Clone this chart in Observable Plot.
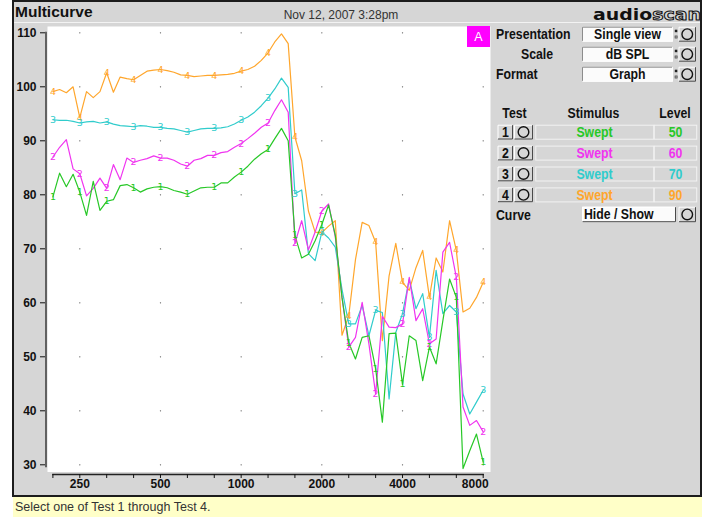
<!DOCTYPE html>
<html>
<head>
<meta charset="utf-8">
<script src="https://cdn.jsdelivr.net/npm/d3@7"></script>
<script src="https://cdn.jsdelivr.net/npm/@observablehq/plot@0.6"></script>
<style>
  html, body { margin: 0; padding: 0; background: #fff; }
  #page { position: relative; width: 708px; height: 524px; overflow: hidden; }
  #page svg { position: absolute; }
  .narrow { font-family: "Liberation Sans", Arial, sans-serif; font-weight: bold; font-size: 15px; }
</style>
</head>
<body>
<div id="page"></div>
<script>
// Frequencies of the swept measurement (Hz), 1/12-octave steps
const freqs = [198.4, 210.2, 222.7, 236.0, 250, 264.9, 280.6, 297.3, 315.0, 333.7, 353.6, 374.6,
  396.9, 420.4, 445.4, 471.9, 500, 529.7, 561.2, 594.6, 630.0, 667.4, 707.1, 749.2,
  793.7, 840.9, 890.9, 943.9, 1000, 1059, 1122, 1189, 1260, 1335, 1414, 1498,
  1587, 1682, 1782, 1888, 2000, 2119, 2245, 2378, 2520, 2670, 2828, 2997,
  3175, 3364, 3564, 3775, 4000, 4238, 4490, 4757, 5040, 5339, 5657, 5993,
  6350, 6727, 7127, 7551, 8000];

// Third-octave centres: curve markers and minor axis ticks
const markerFreqs = [198.4, 250, 315.0, 396.9, 500, 630.0, 793.7, 1000, 1260, 1587, 2000, 2520, 3175, 4000, 5040, 6350, 8000];
const labelFreqs = [250, 500, 1000, 2000, 4000];
const lastLabelFreq = [8000];
const gridFreqs = [250, 500, 1000, 2000, 4000, 8000];
const levelTicks = [30, 40, 50, 60, 70, 80, 90, 100, 110];

// Output level (dB SPL) per test
const test1 = [79.6, 84.0, 81.5, 83.8, 80.5, 76.2, 82.5, 77.1, 78.8, 79.1, 81.7, 81.9,
  81.3, 80.5, 81.1, 81.4, 81.5, 81.3, 80.8, 80.5, 80.1, 80.7, 81.3, 81.4,
  81.4, 82.2, 82.2, 83.3, 84.2, 85.3, 86.6, 87.6, 88.4, 90.4, 92.3, 90.0,
  72.5, 68.3, 69.0, 71.5, 74.5, 78.1, 72.5, 61.0, 52.6, 49.6, 53.6, 53.9,
  47.8, 37.9, 54.3, 54.4, 44.9, 53.9, 53.0, 45.6, 51.8, 48.7, 56.7, 64.4,
  61.0, 29.3, 32.6, 35.7, 30.5];
const test2 = [87.0, 88.8, 90.2, 84.8, 83.9, 79.8, 81.2, 83.1, 81.2, 85.6, 82.8, 86.8,
  86.0, 86.4, 86.7, 87.2, 86.8, 86.8, 86.4, 85.7, 85.3, 86.4, 86.7, 87.3,
  87.3, 87.8, 88.0, 88.8, 89.5, 90.4, 91.4, 92.5, 93.3, 95.6, 97.6, 95.3,
  71.0, 75.2, 69.8, 73.1, 77.0, 78.3, 72.2, 61.0, 51.8, 53.6, 60.1, 52.4,
  43.1, 57.5, 55.5, 55.4, 56.1, 64.7, 56.7, 58.9, 52.4, 53.3, 69.4, 71.2,
  64.7, 40.7, 37.3, 38.2, 36.1];
const test3 = [93.9, 93.8, 93.8, 93.6, 93.3, 93.5, 93.6, 93.3, 93.5, 93.1, 92.8, 92.7,
  92.6, 92.8, 92.7, 92.5, 92.5, 92.3, 92.2, 91.9, 91.6, 91.9, 92.2, 92.3,
  92.3, 92.4, 92.6, 93.1, 93.8, 94.4, 95.3, 96.5, 97.9, 99.6, 101.6, 99.9,
  80.2, 80.9, 69.1, 67.8, 73.1, 72.0, 70.3, 62.5, 56.1, 56.1, 59.5, 53.9,
  58.6, 58.2, 42.2, 54.5, 58.0, 64.4, 58.9, 61.7, 53.6, 66.0, 58.0, 59.5,
  58.3, 43.1, 39.4, 41.6, 43.8];
const test4 = [99.1, 99.5, 98.9, 100.0, 94.3, 99.1, 98.0, 99.1, 102.6, 99.0, 101.8, 101.5,
  101.3, 102.1, 102.9, 103.1, 103.2, 103.0, 102.7, 102.2, 102.1, 101.9, 102.0, 102.1,
  102.1, 102.2, 102.3, 102.5, 102.9, 103.2, 103.8, 104.9, 106.3, 108.3, 109.8, 108.0,
  90.7, 86.3, 77.0, 73.1, 73.0, 74.2, 75.2, 54.0, 57.6, 68.0, 74.9, 74.3,
  71.2, 53.0, 65.0, 71.0, 63.8, 62.3, 66.5, 69.7, 61.0, 68.3, 65.7, 75.2,
  69.7, 58.3, 59.0, 61.0, 63.8];

const testIds = ["1", "2", "3", "4"];
const testSeries = [test1, test2, test3, test4];
const testColors = ["#27c827", "#f034f0", "#30cccc", "#ffa62c"];
const testStimulus = ["Swept", "Swept", "Swept", "Swept"];
const testLevels = ["50", "60", "70", "90"];

// ---------- window chrome ----------
const BG = "#d6d6d6";
function bevel(x, y, w, h, raised, fill) {
  const hi = raised ? "#ffffff" : "#8c8c8c";
  const lo = raised ? "#4a4a4a" : "#ffffff";
  return `<rect x="${x}" y="${y}" width="${w}" height="${h}" fill="${fill}"/>` +
    `<path d="M${x + 0.5},${y + h - 0.5}V${y + 0.5}H${x + w - 0.5}" fill="none" stroke="${hi}"/>` +
    `<path d="M${x + 0.5},${y + h - 0.5}H${x + w - 0.5}V${y + 0.5}" fill="none" stroke="${lo}"/>`;
}
function circleButton(x, y, w, h) {
  return bevel(x, y, w, h, true, BG) +
    `<circle cx="${x + w / 2}" cy="${y + h / 2}" r="5.3" fill="none" stroke="#111" stroke-width="1.4"/>`;
}
function colon(x, y) {
  return `<rect x="${x}" y="${y}" width="2.5" height="2.5" fill="#222"/>` +
    `<rect x="${x + 0.3}" y="${y + 6.3}" width="2" height="2" fill="none" stroke="#444" stroke-width="0.8"/>`;
}
// condensed bold label, anchored at (x, baseline y)
function label(x, y, str, fill = "#111", anchor = "start") {
  return `<text class="narrow" transform="translate(${x},${y}) scale(0.82,1)" text-anchor="${anchor}" fill="${fill}">${str}</text>`;
}

let chrome = `<rect x="0" y="0" width="708" height="524" fill="#fff"/>`;
chrome += `<rect x="13" y="1" width="688" height="495" fill="${BG}" stroke="#1c1c1c" stroke-width="2"/>`;
chrome += `<line x1="14" x2="700" y1="22.5" y2="22.5" stroke="#f3f3f3"/>`;
chrome += `<text x="15" y="17.3" font-family="Liberation Sans, Arial, sans-serif" font-weight="bold" font-size="15.5" fill="#111">Multicurve</text>`;
chrome += `<text x="341" y="18.5" text-anchor="middle" font-family="Liberation Sans, Arial, sans-serif" font-size="12" fill="#333">Nov 12, 2007 3:28pm</text>`;
chrome += `<text x="593" y="19.5" textLength="108" lengthAdjust="spacingAndGlyphs" font-family="DejaVu Sans, sans-serif" font-weight="bold" font-size="16.5" fill="#111">audio<tspan fill="${BG}" stroke="#111" stroke-width="1">scan</tspan></text>`;

// settings rows
const settings = [["Presentation", 496, "start", "Single view"], ["Scale", 537, "middle", "dB SPL"], ["Format", 496, "start", "Graph"]];
settings.forEach(([name, lx, anchor, value], k) => {
  const top = 26.7 + 20 * k;
  chrome += label(lx, top + 12.6, name, "#111", anchor);
  chrome += bevel(582, top, 91, 15, false, "#fbfbfb");
  chrome += label(627.5, top + 12.4, value, "#111", "middle");
  chrome += colon(674.8, top + 3);
  chrome += circleButton(678.5, top, 17.5, 15);
});

// test table
chrome += label(514.5, 117.5, "Test", "#111", "middle");
chrome += label(593.5, 117.5, "Stimulus", "#111", "middle");
chrome += label(675, 117.5, "Level", "#111", "middle");
testIds.forEach((id, k) => {
  const top = 124.7 + 20.9 * k;
  chrome += bevel(497.5, top, 15.5, 14.8, true, BG);
  chrome += label(505.3, top + 12.6, id, "#111", "middle");
  chrome += circleButton(514, top, 19, 14.8);
  chrome += `<rect x="535.8" y="${top + 0.5}" width="118" height="14" fill="${BG}" stroke="#f2f2f2"/>`;
  chrome += `<rect x="654.3" y="${top + 0.5}" width="42.4" height="14" fill="${BG}" stroke="#f2f2f2"/>`;
  chrome += label(594.5, top + 12.6, testStimulus[k], testColors[k], "middle");
  chrome += label(675.5, top + 12.6, testLevels[k], testColors[k], "middle");
});
chrome += label(496, 219.5, "Curve");
chrome += bevel(582, 206.7, 94, 15.5, true, "#fbfbfb");
chrome += label(584, 219.3, "Hide / Show");
chrome += circleButton(678.5, 206.7, 17.5, 15.5);

// status bar
chrome += `<rect x="13" y="497" width="689" height="20" fill="#ffffc8"/>`;
chrome += `<text x="15" y="511" font-family="Liberation Sans, Arial, sans-serif" font-size="12.5" fill="#333">Select one of Test 1 through Test 4.</text>`;

const page = document.getElementById("page");
page.insertAdjacentHTML("beforeend", `<svg width="708" height="524" style="left:0;top:0">${chrome}</svg>`);

// ---------- response curves ----------
const rows = [];
for (let k = testIds.length - 1; k >= 0; k--) {
  testSeries[k].forEach((v, i) => rows.push({test: testIds[k], f: freqs[i], v}));
}
const markers = rows.filter(d => markerFreqs.includes(d.f));
const grid = gridFreqs.flatMap(f => levelTicks.map(v => ({f, v})));

const chart = Plot.plot({
  width: 492,
  height: 476,
  marginLeft: 47,
  marginRight: 2,
  marginTop: 2,
  marginBottom: 28.5,
  style: {background: "transparent", fontFamily: "Liberation Sans, Arial, sans-serif", color: "#111", overflow: "visible"},
  x: {type: "log", domain: [250, 8000], range: [79.3, 482.7], axis: null},
  y: {domain: [30, 110], range: [440.3, 8.3], axis: null},
  color: {domain: testIds, range: testColors},
  marks: [
    Plot.frame({fill: "white", stroke: "none"}),
    Plot.dot(grid, {x: "f", y: "v", r: 0.65, fill: "#555", stroke: "none"}),
    Plot.frame({anchor: "left", stroke: "#222", strokeWidth: 1.3, insetTop: 6, insetBottom: 5.5, dx: -1.5}),
    Plot.axisY({ticks: levelTicks, label: null, tickSize: 5, tickPadding: 4, dx: -2, fontSize: 12, fontWeight: "bold", tickFormat: d => String(d)}),
    Plot.frame({anchor: "bottom", stroke: "#222", strokeWidth: 1.3, insetLeft: 5.4, insetRight: 7.3, dy: 2.5}),
    Plot.axisX({ticks: markerFreqs, label: null, tickSize: 4, dy: 2.5, tickFormat: () => ""}),
    Plot.text(labelFreqs, {x: d => d, frameAnchor: "bottom", dy: 15.5, text: d => String(d), fontSize: 12, fontWeight: "bold"}),
    Plot.text(lastLabelFreq, {x: d => d, frameAnchor: "bottom", dy: 15.5, dx: -8, text: d => String(d), fontSize: 12, fontWeight: "bold"}),
    Plot.line(rows, {x: "f", y: "v", z: "test", stroke: "test", strokeWidth: 1.2}),
    Plot.text(markers, {x: "f", y: "v", text: "test", fill: "test", fontSize: 9.5, fontFamily: "DejaVu Sans, sans-serif"})
  ]
});
chart.style.left = "0px";
chart.style.top = "24px";
page.appendChild(chart);

// active-view badge in the corner of the graph
page.insertAdjacentHTML("beforeend",
  `<svg width="23" height="21" style="left:466.7px;top:26px"><rect width="23" height="21" fill="#ff00ff"/>` +
  `<text x="11.5" y="15" text-anchor="middle" font-family="Liberation Sans, Arial, sans-serif" font-size="12.5" fill="#fff">A</text></svg>`);
</script>
</body>
</html>
